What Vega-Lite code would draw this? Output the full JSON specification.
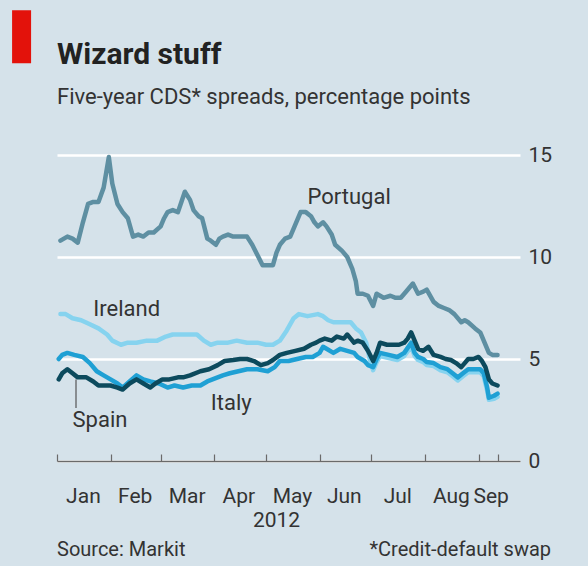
{
  "$schema": "https://vega.github.io/schema/vega-lite/v6.json",
  "width": 463,
  "height": 306,
  "autosize": {"type": "none"},
  "padding": {"left": 57, "top": 155, "right": 68, "bottom": 105},
  "background": "#d5e2ea",
  "config": {
    "view": {"stroke": null},
    "font": "Roboto",
    "axis": {"labelFont": "Roboto", "titleFont": "Roboto", "labelColor": "#333333", "titleColor": "#333333"}
  },
  "title": {
    "text": "Wizard stuff",
    "subtitle": "Five-year CDS* spreads, percentage points",
    "anchor": "start",
    "frame": "group",
    "font": "Roboto",
    "fontSize": 30,
    "fontWeight": "bold",
    "color": "#222222",
    "subtitleFont": "Roboto",
    "subtitleFontSize": 22,
    "subtitleColor": "#333333",
    "subtitlePadding": 17,
    "offset": -98
  },
  "datasets": {
    "cds": [
      {"country":"Portugal","date":"2012-01-03","value":10.8},{"country":"Portugal","date":"2012-01-07","value":11.0},{"country":"Portugal","date":"2012-01-10","value":10.9},{"country":"Portugal","date":"2012-01-13","value":10.7},{"country":"Portugal","date":"2012-01-16","value":11.7},{"country":"Portugal","date":"2012-01-19","value":12.6},{"country":"Portugal","date":"2012-01-22","value":12.7},{"country":"Portugal","date":"2012-01-25","value":12.7},{"country":"Portugal","date":"2012-01-28","value":13.4},{"country":"Portugal","date":"2012-01-31","value":14.9},
      {"country":"Portugal","date":"2012-02-02","value":13.6},{"country":"Portugal","date":"2012-02-05","value":12.6},{"country":"Portugal","date":"2012-02-08","value":12.2},{"country":"Portugal","date":"2012-02-11","value":11.9},{"country":"Portugal","date":"2012-02-14","value":11.0},{"country":"Portugal","date":"2012-02-17","value":11.1},{"country":"Portugal","date":"2012-02-20","value":11.0},{"country":"Portugal","date":"2012-02-23","value":11.2},{"country":"Portugal","date":"2012-02-26","value":11.2},
      {"country":"Portugal","date":"2012-03-01","value":11.5},{"country":"Portugal","date":"2012-03-03","value":11.9},{"country":"Portugal","date":"2012-03-05","value":12.2},{"country":"Portugal","date":"2012-03-08","value":12.3},{"country":"Portugal","date":"2012-03-11","value":12.2},{"country":"Portugal","date":"2012-03-13","value":12.7},{"country":"Portugal","date":"2012-03-15","value":13.2},{"country":"Portugal","date":"2012-03-18","value":12.8},{"country":"Portugal","date":"2012-03-20","value":12.3},{"country":"Portugal","date":"2012-03-23","value":12.0},{"country":"Portugal","date":"2012-03-25","value":11.9},{"country":"Portugal","date":"2012-03-28","value":10.9},{"country":"Portugal","date":"2012-03-30","value":10.8},
      {"country":"Portugal","date":"2012-04-02","value":10.6},{"country":"Portugal","date":"2012-04-04","value":10.9},{"country":"Portugal","date":"2012-04-06","value":11.0},{"country":"Portugal","date":"2012-04-09","value":11.1},{"country":"Portugal","date":"2012-04-12","value":11.0},{"country":"Portugal","date":"2012-04-16","value":11.0},{"country":"Portugal","date":"2012-04-20","value":11.0},{"country":"Portugal","date":"2012-04-23","value":10.6},{"country":"Portugal","date":"2012-04-26","value":10.1},{"country":"Portugal","date":"2012-04-29","value":9.6},
      {"country":"Portugal","date":"2012-05-02","value":9.6},{"country":"Portugal","date":"2012-05-05","value":9.6},{"country":"Portugal","date":"2012-05-07","value":10.2},{"country":"Portugal","date":"2012-05-09","value":10.6},{"country":"Portugal","date":"2012-05-12","value":10.9},{"country":"Portugal","date":"2012-05-15","value":11.0},{"country":"Portugal","date":"2012-05-18","value":11.6},{"country":"Portugal","date":"2012-05-21","value":12.2},{"country":"Portugal","date":"2012-05-24","value":12.2},{"country":"Portugal","date":"2012-05-27","value":12.0},{"country":"Portugal","date":"2012-05-29","value":11.7},{"country":"Portugal","date":"2012-05-31","value":11.5},
      {"country":"Portugal","date":"2012-06-03","value":11.7},{"country":"Portugal","date":"2012-06-05","value":11.5},{"country":"Portugal","date":"2012-06-08","value":11.1},{"country":"Portugal","date":"2012-06-10","value":10.6},{"country":"Portugal","date":"2012-06-14","value":10.3},{"country":"Portugal","date":"2012-06-17","value":10.0},{"country":"Portugal","date":"2012-06-20","value":9.4},{"country":"Portugal","date":"2012-06-22","value":8.8},{"country":"Portugal","date":"2012-06-23","value":8.2},{"country":"Portugal","date":"2012-06-26","value":8.2},{"country":"Portugal","date":"2012-06-29","value":8.1},
      {"country":"Portugal","date":"2012-07-02","value":7.6},{"country":"Portugal","date":"2012-07-04","value":8.2},{"country":"Portugal","date":"2012-07-08","value":8.0},{"country":"Portugal","date":"2012-07-12","value":8.1},{"country":"Portugal","date":"2012-07-15","value":8.0},{"country":"Portugal","date":"2012-07-18","value":8.0},{"country":"Portugal","date":"2012-07-21","value":8.3},{"country":"Portugal","date":"2012-07-25","value":8.7},{"country":"Portugal","date":"2012-07-28","value":8.2},{"country":"Portugal","date":"2012-07-31","value":8.3},
      {"country":"Portugal","date":"2012-08-02","value":8.4},{"country":"Portugal","date":"2012-08-06","value":7.8},{"country":"Portugal","date":"2012-08-09","value":7.6},{"country":"Portugal","date":"2012-08-12","value":7.5},{"country":"Portugal","date":"2012-08-15","value":7.4},{"country":"Portugal","date":"2012-08-18","value":7.2},{"country":"Portugal","date":"2012-08-22","value":6.8},{"country":"Portugal","date":"2012-08-24","value":6.9},{"country":"Portugal","date":"2012-08-26","value":6.8},{"country":"Portugal","date":"2012-08-30","value":6.5},
      {"country":"Portugal","date":"2012-09-02","value":6.3},{"country":"Portugal","date":"2012-09-04","value":5.9},{"country":"Portugal","date":"2012-09-07","value":5.3},{"country":"Portugal","date":"2012-09-09","value":5.2},{"country":"Portugal","date":"2012-09-12","value":5.2},

      {"country":"Ireland","date":"2012-01-03","value":7.2},{"country":"Ireland","date":"2012-01-06","value":7.2},{"country":"Ireland","date":"2012-01-10","value":7.0},{"country":"Ireland","date":"2012-01-15","value":6.9},{"country":"Ireland","date":"2012-01-20","value":6.7},{"country":"Ireland","date":"2012-01-25","value":6.5},{"country":"Ireland","date":"2012-01-30","value":6.2},
      {"country":"Ireland","date":"2012-02-02","value":5.9},{"country":"Ireland","date":"2012-02-07","value":5.7},{"country":"Ireland","date":"2012-02-11","value":5.8},{"country":"Ireland","date":"2012-02-16","value":5.8},{"country":"Ireland","date":"2012-02-22","value":5.9},{"country":"Ireland","date":"2012-02-28","value":5.9},
      {"country":"Ireland","date":"2012-03-04","value":6.1},{"country":"Ireland","date":"2012-03-08","value":6.2},{"country":"Ireland","date":"2012-03-15","value":6.2},{"country":"Ireland","date":"2012-03-22","value":6.2},{"country":"Ireland","date":"2012-03-26","value":5.9},{"country":"Ireland","date":"2012-03-30","value":5.7},
      {"country":"Ireland","date":"2012-04-03","value":5.8},{"country":"Ireland","date":"2012-04-09","value":5.8},{"country":"Ireland","date":"2012-04-14","value":5.9},{"country":"Ireland","date":"2012-04-20","value":5.8},{"country":"Ireland","date":"2012-04-26","value":5.8},
      {"country":"Ireland","date":"2012-05-01","value":5.7},{"country":"Ireland","date":"2012-05-05","value":5.7},{"country":"Ireland","date":"2012-05-09","value":5.9},{"country":"Ireland","date":"2012-05-13","value":6.4},{"country":"Ireland","date":"2012-05-17","value":7.0},{"country":"Ireland","date":"2012-05-20","value":7.2},{"country":"Ireland","date":"2012-05-25","value":7.1},{"country":"Ireland","date":"2012-05-31","value":7.2},
      {"country":"Ireland","date":"2012-06-03","value":7.1},{"country":"Ireland","date":"2012-06-06","value":6.9},{"country":"Ireland","date":"2012-06-09","value":6.8},{"country":"Ireland","date":"2012-06-14","value":6.8},{"country":"Ireland","date":"2012-06-19","value":6.8},{"country":"Ireland","date":"2012-06-22","value":6.5},{"country":"Ireland","date":"2012-06-25","value":6.3},{"country":"Ireland","date":"2012-06-28","value":5.8},{"country":"Ireland","date":"2012-06-30","value":5.0},
      {"country":"Ireland","date":"2012-07-02","value":4.45},{"country":"Ireland","date":"2012-07-04","value":4.85},{"country":"Ireland","date":"2012-07-06","value":5.15},{"country":"Ireland","date":"2012-07-11","value":5.05},{"country":"Ireland","date":"2012-07-16","value":4.95},{"country":"Ireland","date":"2012-07-20","value":5.15},{"country":"Ireland","date":"2012-07-24","value":5.6},{"country":"Ireland","date":"2012-07-26","value":5.15},{"country":"Ireland","date":"2012-07-28","value":4.95},{"country":"Ireland","date":"2012-07-31","value":4.85},
      {"country":"Ireland","date":"2012-08-02","value":4.7},{"country":"Ireland","date":"2012-08-06","value":4.65},{"country":"Ireland","date":"2012-08-10","value":4.45},{"country":"Ireland","date":"2012-08-14","value":4.35},{"country":"Ireland","date":"2012-08-17","value":4.15},{"country":"Ireland","date":"2012-08-20","value":3.95},{"country":"Ireland","date":"2012-08-23","value":4.15},{"country":"Ireland","date":"2012-08-26","value":4.35},{"country":"Ireland","date":"2012-08-30","value":4.35},
      {"country":"Ireland","date":"2012-09-02","value":4.35},{"country":"Ireland","date":"2012-09-04","value":4.15},{"country":"Ireland","date":"2012-09-06","value":3.45},{"country":"Ireland","date":"2012-09-07","value":3.0},{"country":"Ireland","date":"2012-09-10","value":3.05},{"country":"Ireland","date":"2012-09-12","value":3.15},

      {"country":"Italy","date":"2012-01-02","value":5.0},{"country":"Italy","date":"2012-01-04","value":5.2},{"country":"Italy","date":"2012-01-07","value":5.3},{"country":"Italy","date":"2012-01-11","value":5.2},{"country":"Italy","date":"2012-01-16","value":5.1},{"country":"Italy","date":"2012-01-20","value":4.8},{"country":"Italy","date":"2012-01-24","value":4.4},{"country":"Italy","date":"2012-01-28","value":4.2},
      {"country":"Italy","date":"2012-02-01","value":4.0},{"country":"Italy","date":"2012-02-05","value":3.8},{"country":"Italy","date":"2012-02-08","value":3.6},{"country":"Italy","date":"2012-02-12","value":3.9},{"country":"Italy","date":"2012-02-16","value":4.2},{"country":"Italy","date":"2012-02-20","value":4.0},{"country":"Italy","date":"2012-02-24","value":3.9},{"country":"Italy","date":"2012-02-29","value":3.8},
      {"country":"Italy","date":"2012-03-05","value":3.6},{"country":"Italy","date":"2012-03-09","value":3.7},{"country":"Italy","date":"2012-03-14","value":3.6},{"country":"Italy","date":"2012-03-19","value":3.7},{"country":"Italy","date":"2012-03-24","value":3.7},{"country":"Italy","date":"2012-03-28","value":3.9},{"country":"Italy","date":"2012-03-31","value":4.0},
      {"country":"Italy","date":"2012-04-06","value":4.2},{"country":"Italy","date":"2012-04-10","value":4.3},{"country":"Italy","date":"2012-04-15","value":4.4},{"country":"Italy","date":"2012-04-20","value":4.5},{"country":"Italy","date":"2012-04-26","value":4.5},
      {"country":"Italy","date":"2012-05-02","value":4.4},{"country":"Italy","date":"2012-05-06","value":4.6},{"country":"Italy","date":"2012-05-09","value":4.9},{"country":"Italy","date":"2012-05-14","value":4.9},{"country":"Italy","date":"2012-05-19","value":5.0},{"country":"Italy","date":"2012-05-24","value":5.1},{"country":"Italy","date":"2012-05-28","value":5.1},
      {"country":"Italy","date":"2012-06-01","value":5.3},{"country":"Italy","date":"2012-06-03","value":5.6},{"country":"Italy","date":"2012-06-05","value":5.5},{"country":"Italy","date":"2012-06-09","value":5.3},{"country":"Italy","date":"2012-06-13","value":5.5},{"country":"Italy","date":"2012-06-17","value":5.4},{"country":"Italy","date":"2012-06-21","value":5.3},{"country":"Italy","date":"2012-06-23","value":5.1},{"country":"Italy","date":"2012-06-27","value":4.9},{"country":"Italy","date":"2012-06-29","value":4.7},
      {"country":"Italy","date":"2012-07-02","value":4.6},{"country":"Italy","date":"2012-07-04","value":5.0},{"country":"Italy","date":"2012-07-06","value":5.3},{"country":"Italy","date":"2012-07-11","value":5.2},{"country":"Italy","date":"2012-07-16","value":5.1},{"country":"Italy","date":"2012-07-20","value":5.3},{"country":"Italy","date":"2012-07-24","value":5.8},{"country":"Italy","date":"2012-07-26","value":5.3},{"country":"Italy","date":"2012-07-28","value":5.1},{"country":"Italy","date":"2012-07-31","value":5.0},
      {"country":"Italy","date":"2012-08-02","value":4.85},{"country":"Italy","date":"2012-08-06","value":4.8},{"country":"Italy","date":"2012-08-10","value":4.6},{"country":"Italy","date":"2012-08-14","value":4.5},{"country":"Italy","date":"2012-08-17","value":4.3},{"country":"Italy","date":"2012-08-20","value":4.1},{"country":"Italy","date":"2012-08-23","value":4.3},{"country":"Italy","date":"2012-08-26","value":4.5},{"country":"Italy","date":"2012-08-30","value":4.5},
      {"country":"Italy","date":"2012-09-02","value":4.5},{"country":"Italy","date":"2012-09-04","value":4.3},{"country":"Italy","date":"2012-09-06","value":3.6},{"country":"Italy","date":"2012-09-07","value":3.1},{"country":"Italy","date":"2012-09-10","value":3.2},{"country":"Italy","date":"2012-09-12","value":3.3},

      {"country":"Spain","date":"2012-01-02","value":4.0},{"country":"Spain","date":"2012-01-04","value":4.3},{"country":"Spain","date":"2012-01-07","value":4.5},{"country":"Spain","date":"2012-01-10","value":4.3},{"country":"Spain","date":"2012-01-13","value":4.1},{"country":"Spain","date":"2012-01-15","value":4.1},{"country":"Spain","date":"2012-01-18","value":4.1},{"country":"Spain","date":"2012-01-22","value":3.9},{"country":"Spain","date":"2012-01-25","value":3.7},{"country":"Spain","date":"2012-01-28","value":3.7},
      {"country":"Spain","date":"2012-02-01","value":3.7},{"country":"Spain","date":"2012-02-05","value":3.6},{"country":"Spain","date":"2012-02-08","value":3.5},{"country":"Spain","date":"2012-02-12","value":3.8},{"country":"Spain","date":"2012-02-16","value":4.0},{"country":"Spain","date":"2012-02-20","value":3.8},{"country":"Spain","date":"2012-02-24","value":3.6},{"country":"Spain","date":"2012-02-27","value":3.8},
      {"country":"Spain","date":"2012-03-02","value":4.0},{"country":"Spain","date":"2012-03-06","value":4.0},{"country":"Spain","date":"2012-03-11","value":4.1},{"country":"Spain","date":"2012-03-14","value":4.1},{"country":"Spain","date":"2012-03-18","value":4.2},{"country":"Spain","date":"2012-03-24","value":4.4},{"country":"Spain","date":"2012-03-29","value":4.5},
      {"country":"Spain","date":"2012-04-03","value":4.7},{"country":"Spain","date":"2012-04-07","value":4.9},{"country":"Spain","date":"2012-04-12","value":4.95},{"country":"Spain","date":"2012-04-16","value":5.0},{"country":"Spain","date":"2012-04-20","value":5.0},{"country":"Spain","date":"2012-04-24","value":4.9},{"country":"Spain","date":"2012-04-28","value":4.7},
      {"country":"Spain","date":"2012-05-02","value":4.8},{"country":"Spain","date":"2012-05-05","value":4.95},{"country":"Spain","date":"2012-05-09","value":5.2},{"country":"Spain","date":"2012-05-13","value":5.3},{"country":"Spain","date":"2012-05-18","value":5.4},{"country":"Spain","date":"2012-05-23","value":5.5},{"country":"Spain","date":"2012-05-27","value":5.7},{"country":"Spain","date":"2012-05-30","value":5.8},
      {"country":"Spain","date":"2012-06-01","value":5.9},{"country":"Spain","date":"2012-06-04","value":6.0},{"country":"Spain","date":"2012-06-08","value":5.9},{"country":"Spain","date":"2012-06-11","value":6.1},{"country":"Spain","date":"2012-06-15","value":6.0},{"country":"Spain","date":"2012-06-17","value":6.2},{"country":"Spain","date":"2012-06-19","value":6.0},{"country":"Spain","date":"2012-06-21","value":5.8},{"country":"Spain","date":"2012-06-23","value":5.9},{"country":"Spain","date":"2012-06-26","value":5.8},{"country":"Spain","date":"2012-06-29","value":5.4},
      {"country":"Spain","date":"2012-07-02","value":4.9},{"country":"Spain","date":"2012-07-04","value":5.3},{"country":"Spain","date":"2012-07-06","value":5.8},{"country":"Spain","date":"2012-07-10","value":5.7},{"country":"Spain","date":"2012-07-14","value":5.7},{"country":"Spain","date":"2012-07-17","value":5.7},{"country":"Spain","date":"2012-07-20","value":5.8},{"country":"Spain","date":"2012-07-22","value":6.0},{"country":"Spain","date":"2012-07-24","value":6.3},{"country":"Spain","date":"2012-07-26","value":5.9},{"country":"Spain","date":"2012-07-28","value":5.5},{"country":"Spain","date":"2012-07-31","value":5.4},
      {"country":"Spain","date":"2012-08-03","value":5.6},{"country":"Spain","date":"2012-08-06","value":5.2},{"country":"Spain","date":"2012-08-10","value":5.1},{"country":"Spain","date":"2012-08-13","value":5.0},{"country":"Spain","date":"2012-08-16","value":4.95},{"country":"Spain","date":"2012-08-19","value":4.8},{"country":"Spain","date":"2012-08-22","value":4.6},{"country":"Spain","date":"2012-08-24","value":4.8},{"country":"Spain","date":"2012-08-26","value":5.0},{"country":"Spain","date":"2012-08-29","value":5.0},
      {"country":"Spain","date":"2012-09-01","value":5.1},{"country":"Spain","date":"2012-09-03","value":4.9},{"country":"Spain","date":"2012-09-05","value":4.6},{"country":"Spain","date":"2012-09-07","value":4.0},{"country":"Spain","date":"2012-09-09","value":3.8},{"country":"Spain","date":"2012-09-12","value":3.7}
    ],
    "labels": [
      {"text": "Portugal", "date": "2012-05-25", "value": 12.6},
      {"text": "Ireland", "date": "2012-01-22", "value": 7.1},
      {"text": "Italy", "date": "2012-03-30", "value": 2.5},
      {"text": "Spain", "date": "2012-01-10", "value": 1.67}
    ]
  },
  "data": {"name": "cds"},
  "resolve": {"axis": {"x": "independent", "y": "independent"}},
  "layer": [
    {
      "transform": [{"filter": "datum.country === 'Portugal'"}],
      "mark": {"type": "line", "color": "#5e8fa2", "strokeWidth": 4.5, "strokeJoin": "round", "strokeCap": "round"},
      "encoding": {
        "x": {
          "field": "date", "type": "temporal",
          "scale": {"type": "utc", "domain": [{"year": 2012, "month": 1, "date": 1, "utc": true}, {"year": 2012, "month": 9, "date": 25, "utc": true}], "nice": false},
          "axis": {
            "orient": "bottom",
            "values": [
              {"year": 2012, "month": 1, "date": 1, "utc": true},
              {"year": 2012, "month": 2, "date": 1, "utc": true},
              {"year": 2012, "month": 3, "date": 1, "utc": true},
              {"year": 2012, "month": 4, "date": 1, "utc": true},
              {"year": 2012, "month": 5, "date": 1, "utc": true},
              {"year": 2012, "month": 6, "date": 1, "utc": true},
              {"year": 2012, "month": 7, "date": 1, "utc": true},
              {"year": 2012, "month": 8, "date": 1, "utc": true},
              {"year": 2012, "month": 9, "date": 1, "utc": true},
              {"year": 2012, "month": 9, "date": 12, "utc": true}
            ],
            "labels": false, "grid": false, "title": null,
            "domain": true, "domainColor": "#6a6a6a", "domainWidth": 1.5,
            "ticks": true, "tickSize": -7, "tickColor": "#6a6a6a", "tickWidth": 1.2,
            "zindex": 1
          }
        },
        "y": {
          "field": "value", "type": "quantitative",
          "scale": {"domain": [0, 15], "nice": false},
          "axis": {
            "orient": "right", "values": [0, 5, 10, 15], "title": null,
            "domain": false, "ticks": false,
            "grid": true, "gridColor": "#ffffff", "gridWidth": 2.5,
            "labelFontSize": 21, "labelPadding": 8, "labelColor": "#333333"
          }
        }
      }
    },
    {
      "transform": [{"filter": "datum.country === 'Ireland'"}],
      "mark": {"type": "line", "color": "#86d3ef", "strokeWidth": 4.5, "strokeJoin": "round", "strokeCap": "round"},
      "encoding": {
        "x": {
          "field": "date", "type": "temporal",
          "axis": {
            "orient": "bottom",
            "values": [
              {"year": 2012, "month": 1, "date": 16, "utc": true},
              {"year": 2012, "month": 2, "date": 15, "utc": true},
              {"year": 2012, "month": 3, "date": 16, "utc": true},
              {"year": 2012, "month": 4, "date": 15, "utc": true},
              {"year": 2012, "month": 5, "date": 16, "utc": true},
              {"year": 2012, "month": 6, "date": 15, "utc": true},
              {"year": 2012, "month": 7, "date": 16, "utc": true},
              {"year": 2012, "month": 8, "date": 16, "utc": true},
              {"year": 2012, "month": 9, "date": 8, "utc": true}
            ],
            "format": "%b",
            "domain": false, "ticks": false, "grid": false,
            "labelFontSize": 21, "labelPadding": 24, "labelColor": "#333333",
            "title": "2012", "titleFontSize": 21, "titleFontWeight": "normal", "titleColor": "#333333", "titlePadding": 3, "titleX": 219
          }
        },
        "y": {"field": "value", "type": "quantitative", "axis": null}
      }
    },
    {
      "transform": [{"filter": "datum.country === 'Italy'"}],
      "mark": {"type": "line", "color": "#1fa0d4", "strokeWidth": 4.5, "strokeJoin": "round", "strokeCap": "round"},
      "encoding": {
        "x": {"field": "date", "type": "temporal", "axis": null},
        "y": {"field": "value", "type": "quantitative", "axis": null}
      }
    },
    {
      "transform": [{"filter": "datum.country === 'Spain'"}],
      "mark": {"type": "line", "color": "#0c4a5d", "strokeWidth": 4.5, "strokeJoin": "round", "strokeCap": "round"},
      "encoding": {
        "x": {"field": "date", "type": "temporal", "axis": null},
        "y": {"field": "value", "type": "quantitative", "axis": null}
      }
    },
    {
      "data": {"name": "labels"},
      "mark": {"type": "text", "align": "left", "baseline": "alphabetic", "fontSize": 22, "color": "#333333", "font": "Roboto"},
      "encoding": {
        "x": {"field": "date", "type": "temporal", "axis": null},
        "y": {"field": "value", "type": "quantitative", "axis": null},
        "text": {"field": "text"}
      }
    },
    {
      "data": {"values": [{}]},
      "mark": {"type": "rule", "color": "#555555", "strokeWidth": 1.2},
      "encoding": {
        "x": {"datum": {"year": 2012, "month": 1, "date": 12, "utc": true}, "type": "temporal", "axis": null},
        "y": {"datum": 4.0, "type": "quantitative", "axis": null},
        "y2": {"datum": 2.6}
      }
    },
    {
      "data": {"values": [{}]},
      "mark": {"type": "rect", "color": "#e3120b"},
      "encoding": {
        "x": {"datum": {"year": 2011, "month": 12, "date": 6, "utc": true}, "type": "temporal", "axis": null},
        "x2": {"datum": {"year": 2011, "month": 12, "date": 17, "utc": true}},
        "y": {"datum": 22.1, "type": "quantitative", "axis": null},
        "y2": {"datum": 19.5}
      }
    },
    {
      "data": {"values": [{}]},
      "mark": {"type": "text", "align": "left", "baseline": "middle", "fontSize": 20, "color": "#333333", "font": "Roboto", "text": "Source: Markit"},
      "encoding": {
        "x": {"datum": {"year": 2012, "month": 1, "date": 1, "utc": true}, "type": "temporal", "axis": null},
        "y": {"datum": -4.35, "type": "quantitative", "axis": null}
      }
    },
    {
      "data": {"values": [{}]},
      "mark": {"type": "text", "align": "right", "baseline": "middle", "fontSize": 20, "color": "#333333", "font": "Roboto", "text": "*Credit-default swap"},
      "encoding": {
        "x": {"datum": {"year": 2012, "month": 10, "date": 13, "utc": true}, "type": "temporal", "axis": null},
        "y": {"datum": -4.35, "type": "quantitative", "axis": null}
      }
    }
  ]
}
